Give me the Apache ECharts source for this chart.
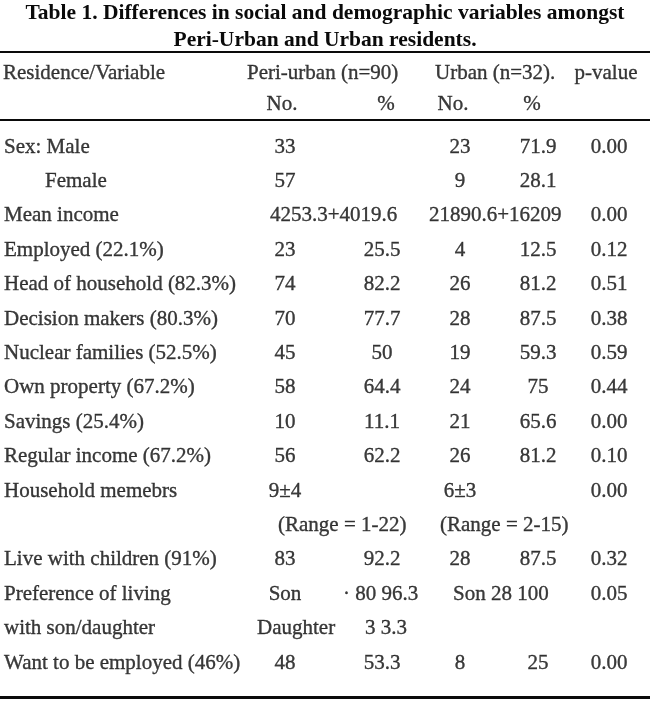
<!DOCTYPE html>
<html>
<head>
<meta charset="utf-8">
<script src="https://cdn.jsdelivr.net/npm/echarts@6/dist/echarts.min.js"></script>
<style>
  html, body { margin: 0; padding: 0; background: #fff; }
  #chart { width: 650px; height: 706px; }
</style>
</head>
<body>
<div id="chart"></div>
<script>
// ---------- data ----------
const titleText = 'Table 1. Differences in social and demographic variables amongst\nPeri-Urban and Urban residents.';
const headerTop = ['Residence/Variable', 'Peri-urban (n=90)', 'Urban (n=32).', 'p-value'];
const headerSub = ['No.', '%', 'No.', '%'];

const variables = ['Sex: Male', 'Female', 'Mean income', 'Employed (22.1%)', 'Head of household (82.3%)',
  'Decision makers (80.3%)', 'Nuclear families (52.5%)', 'Own property (67.2%)', 'Savings (25.4%)',
  'Regular income (67.2%)', 'Household memebrs', '', 'Live with children (91%)', 'Preference of living',
  'with son/daughter', 'Want to be employed (46%)'];
const periNo = ['33', '57', '4253.3+4019.6', '23', '74', '70', '45', '58', '10', '56', '9±4',
  '(Range = 1-22)', '83', 'Son', 'Daughter', '48'];
const periPct = ['', '', '', '25.5', '82.2', '77.7', '50', '64.4', '11.1', '62.2', '', '', '92.2',
  '· 80 96.3', '3 3.3', '53.3'];
const urbanNo = ['23', '9', '21890.6+16209', '4', '26', '28', '19', '24', '21', '26', '6±3',
  '(Range = 2-15)', '28', 'Son 28 100', '', '8'];
const urbanPct = ['71.9', '28.1', '', '12.5', '81.2', '87.5', '59.3', '75', '65.6', '81.2', '', '',
  '87.5', '', '', '25'];
const pValue = ['0.00', '', '0.00', '0.12', '0.51', '0.38', '0.59', '0.44', '0.00', '0.10', '0.00', '',
  '0.32', '0.05', '', '0.00'];

// ---------- layout (positions / styles, kept apart from the data) ----------
const FONT = 'Liberation Serif';
const INK = '#0a0a0a';
const FS = 21;
const bodyCols = [
  { values: variables, x: 4, align: 'left' },
  { values: periNo, x: 285, align: 'center' },
  { values: periPct, x: 382, align: 'center' },
  { values: urbanNo, x: 460, align: 'center' },
  { values: urbanPct, x: 538, align: 'center' },
  { values: pValue, x: 609, align: 'center' }
];
// row,col -> anchor override for cells that spill out of their column
const cellOverrides = {
  '1,0': { x: 45, align: 'left' },
  '2,1': { x: 270, align: 'left' },
  '2,3': { x: 429, align: 'left' },
  '11,1': { x: 278, align: 'left' },
  '11,3': { x: 440, align: 'left' },
  '13,2': { x: 343, align: 'left' },
  '13,3': { x: 453, align: 'left' },
  '14,1': { x: 257, align: 'left' },
  '14,2': { x: 365, align: 'left' }
};
const headerTopLayout = [
  { x: 3, align: 'left' }, { x: 247, align: 'left' }, { x: 435, align: 'left' }, { x: 606, align: 'center' }
];
const headerSubLayout = [282, 386, 453, 532];

function item(text, x, row, align) {
  return { name: text, value: [x, row], label: { align: align } };
}

const series = [];
const labelBase = {
  show: true, position: 'inside', formatter: '{b}', color: INK,
  fontFamily: FONT, fontSize: FS, verticalAlign: 'middle',
  textBorderColor: INK, textBorderWidth: 0.35
};

// header
const hData = [];
headerTop.forEach((t, i) => hData.push(item(t, headerTopLayout[i].x, 0, headerTopLayout[i].align)));
headerSub.forEach((t, i) => hData.push(item(t, headerSubLayout[i], 1, 'center')));
series.push({
  type: 'scatter', xAxisIndex: 0, yAxisIndex: 0, symbolSize: 0, silent: true,
  label: labelBase, data: hData
});

// body
bodyCols.forEach((col, c) => {
  const data = [];
  col.values.forEach((t, r) => {
    if (!t) return;
    const o = cellOverrides[r + ',' + c];
    data.push(item(t, o ? o.x : col.x, r, o ? o.align : col.align));
  });
  series.push({
    type: 'scatter', xAxisIndex: 1, yAxisIndex: 1, symbolSize: 0, silent: true,
    label: labelBase, data: data
  });
});

const hiddenValueX = (i) => ({
  type: 'value', gridIndex: i, min: 0, max: 650, show: false
});
const rowAxis = (i, n) => ({
  type: 'category', gridIndex: i, inverse: true, show: false, boundaryGap: true,
  data: Array.from({ length: n }, (_, k) => k)
});

const chart = echarts.init(document.getElementById('chart'), null, { renderer: 'canvas' });
chart.setOption({
  backgroundColor: '#fff',
  animation: false,
  title: {
    text: titleText, left: 'center', top: 0, padding: 0,
    textStyle: { fontFamily: FONT, fontWeight: 'bold', fontSize: 21.5, lineHeight: 27, color: INK }
  },
  grid: [
    { left: 0, right: 0, top: 57.25, height: 63 },
    { left: 0, right: 0, top: 129.8, height: 550.4 }
  ],
  xAxis: [hiddenValueX(0), hiddenValueX(1)],
  yAxis: [rowAxis(0, 2), rowAxis(1, variables.length)],
  graphic: [
    { type: 'rect', shape: { x: 0, y: 51, width: 650, height: 2 }, style: { fill: INK }, silent: true },
    { type: 'rect', shape: { x: 0, y: 119, width: 650, height: 2 }, style: { fill: INK }, silent: true },
    { type: 'rect', shape: { x: 0, y: 696, width: 650, height: 3 }, style: { fill: INK }, silent: true }
  ],
  series: series
});
</script>
</body>
</html>
